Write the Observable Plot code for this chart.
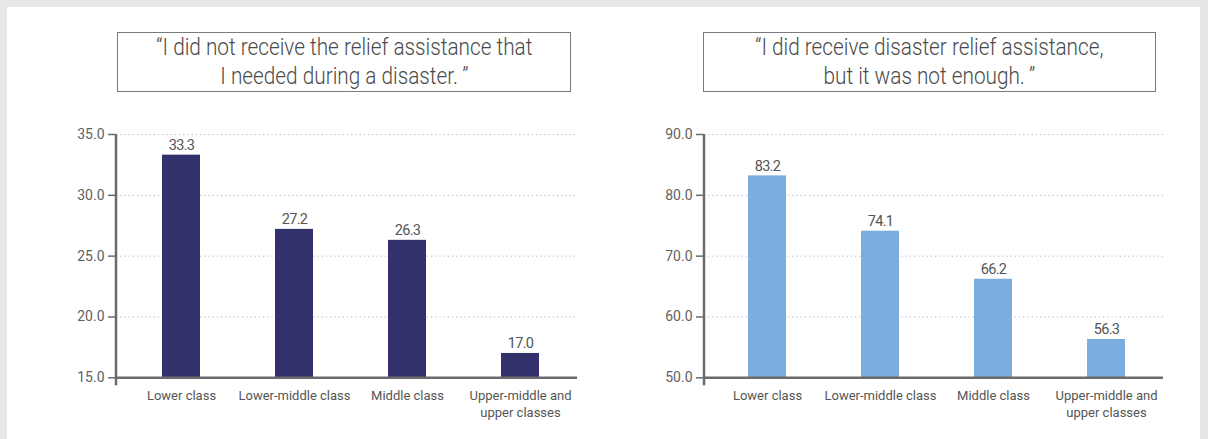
<!DOCTYPE html>
<html>
<head>
<meta charset="utf-8">
<script src="https://cdn.jsdelivr.net/npm/d3@7"></script>
<script src="https://cdn.jsdelivr.net/npm/@observablehq/plot@0.6"></script>
<style>
  body { margin: 0; background: #e6e7e9; font-family: Roboto, "Noto Sans", sans-serif; }
  #panel { position: absolute; left: 7px; top: 7px; width: 1193px; height: 432px; background: #fff; }
  .title { position: absolute; top: 32px; height: 60px; box-sizing: border-box; border: 1.5px solid #7a7a7a;
           text-align: center; color: #4a4a4a; font-size: 24px; line-height: 29px; font-weight: 300; }
  .title div { white-space: nowrap; }
  .title span { display: inline-block; transform: scaleX(0.865); transform-origin: center; }
  .chart { position: absolute; top: 120px; }
  .chart g[aria-label="text"] text { letter-spacing: -0.7px; }
</style>
</head>
<body>
<div id="panel"></div>
<div id="title-left" class="title" style="left:117px;width:454px"></div>
<div id="title-right" class="title" style="left:703px;width:453px"></div>
<div id="chart-left" class="chart" style="left:0px"></div>
<div id="chart-right" class="chart" style="left:600px"></div>
<script>
// Income groups shown on both charts
const classes = ["Lower class", "Lower-middle class", "Middle class", "Upper-middle and\nupper classes"];

// Share of respondents (%) per income group
const notReceived = [33.3, 27.2, 26.3, 17.0];
const notEnough = [83.2, 74.1, 66.2, 56.3];

// Y-axis ticks
const ticksLeft = [15, 20, 25, 30, 35];
const ticksRight = [50, 60, 70, 80, 90];

// Chart headings (one entry per line)
const titleLeft = ["\u201CI did not receive the relief assistance that", "I needed during a disaster.\u2009\u201D"];
const titleRight = ["\u201CI did receive disaster relief assistance,", "but it was not enough.\u2009\u201D"];

function setTitle(id, lines) {
  const box = document.getElementById(id);
  for (const line of lines) {
    const row = document.createElement("div");
    const span = document.createElement("span");
    span.textContent = line;
    row.appendChild(span);
    box.appendChild(row);
  }
}

function barChart({values, ticks, color, width, marginLeft, marginRight, insetLeft}) {
  const data = classes.map((c, i) => ({cls: c, v: values[i]}));
  const lo = ticks[0], hi = ticks[ticks.length - 1];
  const chart = Plot.plot({
    width,
    height: 319,
    marginTop: 14,
    marginBottom: 61.7,
    marginLeft,
    marginRight,
    style: {fontFamily: "Roboto, 'Noto Sans', sans-serif", background: "transparent", overflow: "visible"},
    x: {domain: classes, paddingInner: 0.665, paddingOuter: 0.3325, insetLeft, label: null},
    y: {domain: [lo, hi], label: null},
    marks: [
      Plot.gridY(ticks, {stroke: "#b3b3b3", strokeOpacity: 1, strokeDasharray: "1.2,3", strokeWidth: 1}),
      Plot.barY(data, {x: "cls", y1: lo, y2: "v", fill: color}),
      Plot.text(data, {x: "cls", y: "v", text: d => d.v.toFixed(1), lineAnchor: "bottom", dy: -5,
                       fontSize: 14.5, fill: "#555"}),
      Plot.ruleY([lo], {stroke: "#6b6b6b", strokeWidth: 2.5}),
      Plot.axisY(ticks, {tickSize: 8, tickPadding: 4, tickFormat: d => d.toFixed(1), fontSize: 14,
                         stroke: "#6b6b6b", strokeWidth: 1.5, fill: "#5f5f5f", label: null}),
      Plot.axisX({tickSize: 0, tickPadding: 10, fontSize: 13, lineHeight: 1.3, fill: "#555", label: null})
    ]
  });
  // vertical axis line, running a little past the baseline
  const y = chart.scale("y");
  d3.select(chart).append("line")
    .attr("x1", marginLeft).attr("x2", marginLeft)
    .attr("y1", y.apply(hi)).attr("y2", y.apply(lo) + 8)
    .attr("stroke", "#6b6b6b").attr("stroke-width", 2.5);
  return chart;
}

setTitle("title-left", titleLeft);
setTitle("title-right", titleRight);

document.getElementById("chart-left").appendChild(barChart({
  values: notReceived, ticks: ticksLeft, color: "#32316b",
  width: 600, marginLeft: 116, marginRight: 23, insetLeft: 7
}));
document.getElementById("chart-right").appendChild(barChart({
  values: notEnough, ticks: ticksRight, color: "#7badde",
  width: 608, marginLeft: 104, marginRight: 45, insetLeft: 5
}));
</script>
</body>
</html>
